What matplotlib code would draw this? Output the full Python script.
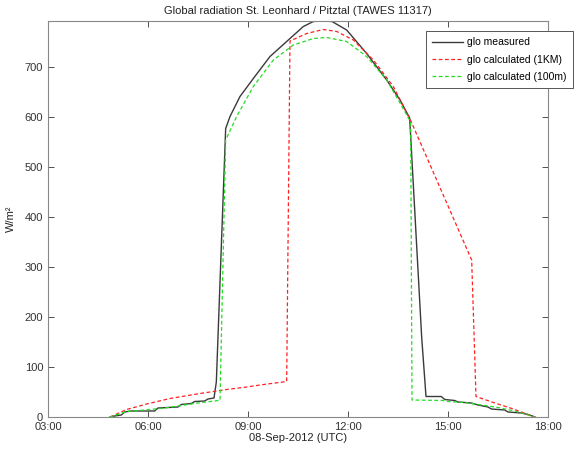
import matplotlib
matplotlib.use("Agg")
import matplotlib.pyplot as plt

plt.rcParams['font.family'] = ['Liberation Sans', 'DejaVu Sans']

# time in decimal hours (UTC), values in W/m²
t_meas = [4.86, 5.0, 5.2, 5.3, 5.5, 6.2, 6.3, 6.9, 7.0, 7.3, 7.4, 7.7, 7.8, 7.98, 8.05,
          8.33, 8.46, 8.76, 9.16, 9.66, 10.16, 10.66, 10.96, 11.2, 11.52, 11.96, 12.56,
          13.16, 13.56, 13.85, 14.21, 14.34, 14.8, 14.9, 15.2, 15.3, 15.7, 15.9, 16.2,
          16.3, 16.7, 16.8, 17.2, 17.4, 17.61]
v_meas = [0, 2, 4, 10, 12, 12, 18, 20, 25, 27, 31, 32, 36, 38, 70,
          577, 601, 641, 677, 721, 751, 781, 791, 792, 791, 774, 727,
          674, 634, 598, 160, 41, 41, 35, 33, 30, 28, 24, 20,
          16, 14, 10, 8, 5, 0]

t_1km = [4.86, 5.36, 5.96, 6.66, 7.56, 8.36, 8.96, 9.36, 10.16, 10.26, 10.76, 11.26,
         11.66, 12.16, 12.76, 13.36, 13.9, 15.71, 15.84, 16.36, 16.96, 17.6]
v_1km = [0, 15, 26, 37, 47, 55, 60, 64, 71, 752, 767, 775,
         771, 754, 714, 661, 590, 314, 41, 29, 16, 0]

t_100m = [4.86, 5.36, 5.9, 6.5, 7.0, 7.5, 8.11, 8.16, 8.33, 8.66, 9.16, 9.76, 10.36,
          10.96, 11.36, 11.96, 12.56, 13.16, 13.56, 13.88, 13.92, 14.85, 15.0, 15.5,
          16.0, 16.5, 17.0, 17.6]
v_100m = [0, 11, 14, 18, 23, 28, 33, 33, 554, 601, 661, 714, 744,
          757, 759, 751, 721, 674, 628, 590, 34, 33, 31, 29,
          24, 19, 12, 0]

x_ticks = [3, 6, 9, 12, 15, 18]
x_labels = ['03:00', '06:00', '09:00', '12:00', '15:00', '18:00']
y_ticks = [0, 100, 200, 300, 400, 500, 600, 700]

fig = plt.figure(figsize=(5.78, 4.5), dpi=100)
ax = fig.add_axes([48/578, 1-417/450, 500/578, (417-21)/450])

ax.plot(t_meas, v_meas, color='#3a3a3a', lw=1.0, label='glo measured')
ax.plot(t_1km, v_1km, color='#ff2020', lw=0.9, ls=(0, (3, 2)), label='glo calculated (1KM)')
ax.plot(t_100m, v_100m, color='#22dd22', lw=0.9, ls=(0, (3, 2)), label='glo calculated (100m)')

ax.set_xlim(3, 18)
ax.set_ylim(0, 792)
ax.set_xticks(x_ticks)
ax.set_xticklabels(x_labels)
ax.set_yticks(y_ticks)
ax.tick_params(direction='in', top=True, right=True, labelsize=8, colors='#333333',
               length=4, width=0.6)
for sp in ax.spines.values():
    sp.set_color('#888888')
    sp.set_linewidth(0.8)

ax.set_title('Global radiation St. Leonhard / Pitztal (TAWES 11317)', fontsize=8, color='#222222', pad=5)
ax.set_xlabel('08-Sep-2012 (UTC)', fontsize=8, color='#222222', labelpad=1)
ax.set_ylabel('W/m²', fontsize=8, color='#222222', labelpad=6)

leg = ax.legend(loc='upper right', bbox_to_anchor=(573/578, 1-31/450), bbox_transform=fig.transFigure,
                fontsize=7.5, frameon=True, fancybox=False, framealpha=1, borderpad=0.6,
                borderaxespad=0, handlelength=3.0, handletextpad=0.4, labelspacing=0.7)
leg.get_frame().set_edgecolor('#555555')
leg.get_frame().set_linewidth(0.7)

fig.savefig('out.png', dpi=100)
